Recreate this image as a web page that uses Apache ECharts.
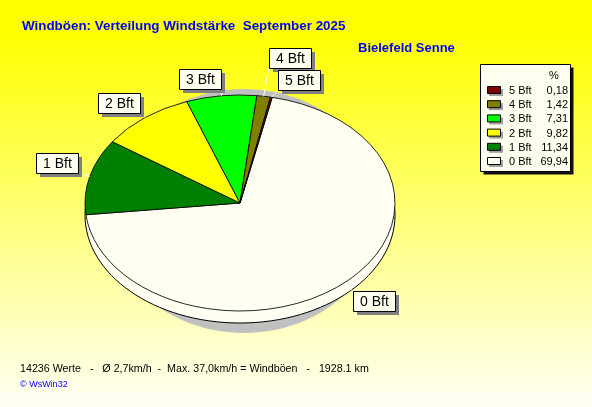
<!DOCTYPE html>
<html><head><meta charset="utf-8">
<script src="https://cdn.jsdelivr.net/npm/echarts@6/dist/echarts.min.js"></script>
<style>html,body{margin:0;padding:0;background:#fff;}#c{width:592px;height:407px;}</style>
</head><body><div id="c"></div>
<script>
// ---- data ----
const categories = ['0 Bft', '1 Bft', '2 Bft', '3 Bft', '4 Bft', '5 Bft'];
const percents = [69.94, 11.34, 9.82, 7.31, 1.42, 0.18];
const sliceColors = ['#FFFFF2', '#008000', '#FFFF00', '#00FF00', '#808000', '#800000'];
const titleText = 'Windböen: Verteilung Windstärke  September 2025';
const stationText = 'Bielefeld Senne';
const footerText = '14236 Werte   -   Ø 2,7km/h  -  Max. 37,0km/h = Windböen   -   1928.1 km';
const creditText = '© WsWin32';
const legendHeader = '%';

// ---- layout / style ----
const CX = 240, CY = 203, RX = 155, RY = 108, START = 12; // start angle, degrees clockwise from top
const SIDE = 12;
const labelOffsets = [[9, 8], [-12, -4], [-5, -5], [0, -7], [5, -28], [7, -7]];
const BOX_W = 42, BOX_H = 20;
const FONT = '"Liberation Sans", Arial, sans-serif';

const total = percents.reduce((a, b) => a + b, 0);
let acc = 0;
const seriesData = percents.map((v, i) => {
  const d = { name: categories[i], value: [v, acc], itemStyle: { color: sliceColors[i] } };
  acc += v;
  return d;
});

function renderItem(params, api) {
  const i = params.dataIndex;
  const v = api.value(0), c0 = api.value(1);
  const a0 = START + c0 / total * 360, a1 = START + (c0 + v) / total * 360;
  const toRad = d => (d - 90) * Math.PI / 180;
  const mid = (a0 + a1) / 2 * Math.PI / 180;
  const px = CX + RX * Math.sin(mid), py = CY - RY * Math.cos(mid);
  const off = labelOffsets[i];
  const qx = px + off[0], qy = py + off[1];
  const right = Math.sin(mid) >= 0, upper = Math.cos(mid) > 0;
  const bx = Math.round(right ? qx : qx - BOX_W);
  const by = Math.round(upper ? qy - BOX_H : qy);
  return {
    type: 'group', children: [
      { type: 'sector', z2: 1,
        shape: { cx: CX, cy: CY, r0: 0, r: RX, startAngle: toRad(a0), endAngle: toRad(a1), clockwise: true },
        originX: CX, originY: CY, scaleY: RY / RX,
        style: { fill: api.visual('color'), stroke: '#000', lineWidth: 1, strokeNoScale: true } },
      { type: 'line', z2: 10, shape: { x1: px, y1: py, x2: qx, y2: qy }, style: { stroke: '#fff', lineWidth: 1 } },
      { type: 'rect', z2: 11, shape: { x: bx + 4, y: by + 4, width: BOX_W, height: BOX_H }, style: { fill: '#808080' } },
      { type: 'rect', z2: 12, shape: { x: bx + 0.5, y: by + 0.5, width: BOX_W, height: BOX_H }, style: { fill: '#FFFFF0', stroke: '#000', lineWidth: 1 } },
      { type: 'text', z2: 13, x: bx + BOX_W / 2 + 0.5, y: by + BOX_H / 2 + 1.5,
        style: { text: categories[i], fill: '#000', font: '14px ' + FONT, align: 'center', verticalAlign: 'middle', textAlign: 'center', textVerticalAlign: 'middle' } }
    ]
  };
}

// legend built from arrays
const LX = 480, LY = 64, LW = 90, LH = 107;
const legendEls = [
  { type: 'rect', z: 1, shape: { x: LX + 3.5, y: LY + 3.5, width: LW, height: LH }, style: { fill: '#111' } },
  { type: 'rect', z: 2, shape: { x: LX + 0.5, y: LY + 0.5, width: LW, height: LH }, style: { fill: '#FFFFF0', stroke: '#000', lineWidth: 1 } },
  { type: 'text', z: 3, x: 554, y: 76, style: { text: legendHeader, font: '11px ' + FONT, fill: '#000', align: 'center', verticalAlign: 'middle' } }
];
for (let k = 0; k < categories.length; k++) {
  const i = categories.length - 1 - k;
  const y = 91 + k * 14.2;
  legendEls.push(
    { type: 'rect', z: 3, shape: { x: 489, y: y - 2, width: 14, height: 7 }, style: { fill: '#A0A0A0' } },
    { type: 'rect', z: 4, shape: { x: 487.5, y: y - 4.5, width: 13, height: 7 }, style: { fill: sliceColors[i], stroke: '#000', lineWidth: 1 } },
    { type: 'text', z: 4, x: 509, y: y, style: { text: categories[i], font: '11px ' + FONT, fill: '#000', align: 'left', verticalAlign: 'middle' } },
    { type: 'text', z: 4, x: 568, y: y, style: { text: percents[i].toFixed(2).replace('.', ','), font: '11px ' + FONT, fill: '#000', align: 'right', verticalAlign: 'middle' } }
  );
}

const chart = echarts.init(document.getElementById('c'), null, { renderer: 'canvas' });
chart.setOption({
  animation: false,
  backgroundColor: { type: 'linear', x: 0, y: 0, x2: 0, y2: 1, colorStops: [
    { offset: 0, color: '#FFFF00' }, { offset: 0.08, color: '#FFFF00' }, { offset: 1, color: '#FFFFF6' } ] },
  graphic: [
    { type: 'ellipse', z: 0, shape: { cx: 244, cy: 211, rx: 138, ry: 122 }, style: { fill: '#C0C0C0' } },
    { type: 'ellipse', z: 1, shape: { cx: CX, cy: CY + SIDE, rx: RX, ry: RY }, style: { fill: '#FFFFF2', stroke: '#000', lineWidth: 1 } },
    { type: 'text', x: 22, y: 26, style: { text: titleText, font: 'bold 13.4px ' + FONT, fill: '#0000FF', align: 'left', verticalAlign: 'middle' } },
    { type: 'text', x: 358, y: 48, style: { text: stationText, font: 'bold 13px ' + FONT, fill: '#0000FF', align: 'left', verticalAlign: 'middle' } },
    { type: 'text', x: 20, y: 369, style: { text: footerText, font: '10.7px ' + FONT, fill: '#000', align: 'left', verticalAlign: 'middle' } },
    { type: 'text', x: 20, y: 385, style: { text: creditText, font: '9px ' + FONT, fill: '#0000FF', align: 'left', verticalAlign: 'middle' } },
    ...legendEls
  ],
  series: [{
    type: 'custom', coordinateSystem: 'none', z: 5,
    renderItem: renderItem,
    data: seriesData
  }]
});
</script></body></html>
